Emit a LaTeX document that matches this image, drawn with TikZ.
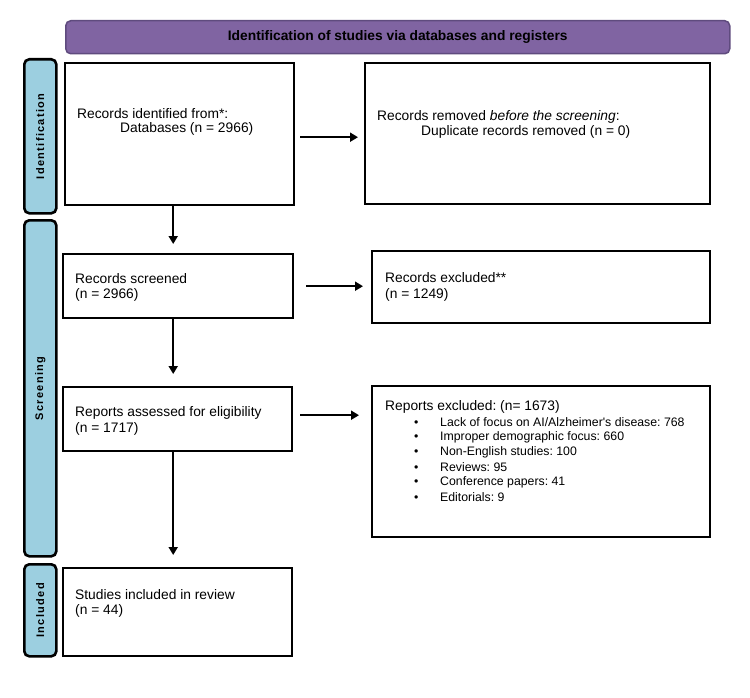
\documentclass[tikz,border=0pt]{standalone}
\usepackage{fontspec}
\setmainfont{Liberation Sans}
\usetikzlibrary{arrows.meta}
\definecolor{banfill}{HTML}{8064A2}
\definecolor{bandraw}{HTML}{5F4B7E}
\definecolor{sidefill}{HTML}{9CCFE0}
\frenchspacing
\begin{document}
\begin{tikzpicture}[x=1pt,y=-1pt,
  box/.style={draw=black, line width=2.4pt, fill=white, anchor=north west, inner sep=0pt},
  sidebox/.style={draw=black, line width=2.6pt, fill=sidefill, rounded corners=5pt, anchor=north west, inner sep=0pt, minimum width=32pt},
  sidelab/.style={rotate=90, font=\fontsize{11}{13}\selectfont\bfseries\addfontfeature{LetterSpace=12}},
  txt/.style={anchor=west, inner sep=0pt, font=\fontsize{13.8}{15}\selectfont},
  btxt/.style={anchor=west, inner sep=0pt, font=\fontsize{12.3}{15}\selectfont},
  arr/.style={line width=2.4pt, -{Triangle[length=8pt,width=9pt]}}
]
\useasboundingbox (0,0) rectangle (750,698);
% banner
\node[draw=bandraw, line width=1.5pt, fill=banfill, rounded corners=5pt, anchor=north west,
      minimum width=664pt, minimum height=33pt, inner sep=0pt,
      font=\fontsize{13.8}{15}\selectfont\bfseries] (ban) at (65,20) {Identification of studies via databases and registers};
% side boxes
\node[sidebox, minimum height=154pt] (sid) at (23,58) {};
\node[sidelab] (sidl) at (sid.center) {Identification};
\node[sidebox, minimum height=336pt] (ssc) at (23,219) {};
\node[sidelab] (sscl) at (ssc.center) {Screening};
\node[sidebox, minimum height=92pt] (sin) at (23,563) {};
\node[sidelab] (sinl) at (sin.center) {Included};
% boxes
\node[box, minimum width=229pt, minimum height=142pt] (rid) at (64,62) {};
\node[box, minimum width=345pt, minimum height=141pt] (rem) at (364,62) {};
\node[box, minimum width=230pt, minimum height=64pt] (scr) at (62,253) {};
\node[box, minimum width=338pt, minimum height=72pt] (exc) at (371,250) {};
\node[box, minimum width=229pt, minimum height=64pt] (rep) at (62,386) {};
\node[box, minimum width=338pt, minimum height=151pt] (repx) at (371,385) {};
\node[box, minimum width=229pt, minimum height=88pt] (inc) at (62,567) {};
% texts
\node[txt] (t1a) at (77,114) {Records identified from*:};
\node[txt] (t1b) at (120,129) {Databases (n = 2966)};
\node[txt] (t2a) at (377,117) {Records removed \textit{before the screening}:};
\node[txt] (t2b) at (421,132) {Duplicate records removed (n = 0)};
\node[txt] (t3a) at (75,279) {Records screened};
\node[txt] (t3b) at (75,295) {(n = 2966)};
\node[txt] (t4a) at (385,278) {Records excluded**};
\node[txt] (t4b) at (385,295) {(n = 1249)};
\node[txt] (t5a) at (75,413) {Reports assessed for eligibility};
\node[txt] (t5b) at (75,429) {(n = 1717)};
\node[txt] (t6a) at (385,407) {Reports excluded: (n= 1673)};
\node[btxt] (t6b) at (414,422) {\makebox[26pt][l]{•}Lack of focus on AI/Alzheimer\textquotesingle s disease: 768};
\node[btxt] (t6c) at (414,437) {\makebox[26pt][l]{•}Improper demographic focus: 660};
\node[btxt] (t6d) at (414,452) {\makebox[26pt][l]{•}Non-English studies: 100};
\node[btxt] (t6e) at (414,467) {\makebox[26pt][l]{•}Reviews: 95};
\node[btxt] (t6f) at (414,482) {\makebox[26pt][l]{•}Conference papers: 41};
\node[btxt] (t6g) at (414,497) {\makebox[26pt][l]{•}Editorials: 9};
\node[txt] (t7a) at (75,595) {Studies included in review};
\node[txt] (t7b) at (75,611) {(n = 44)};
% arrows
\draw[arr] ([xshift=5pt,yshift=-3pt]rid.east) -- ([xshift=-6pt,yshift=-3pt]rid.east -| rem.west);
\draw[arr] ([xshift=12pt]scr.east) -- ([xshift=-8pt]scr.east -| exc.west);
\draw[arr] ([xshift=7pt,yshift=4pt]rep.east) -- ([xshift=-12pt,yshift=4pt]rep.east -| repx.west);
\draw[arr, shorten >=9pt] ([xshift=-6.5pt]rid.south) -- ([xshift=-6.5pt]rid.south |- scr.north);
\draw[arr, shorten >=12pt] ([xshift=-5pt]scr.south) -- ([xshift=-5pt]scr.south |- rep.north);
\draw[arr, shorten >=12pt] ([xshift=-4.5pt]rep.south) -- ([xshift=-4.5pt]rep.south |- inc.north);
\end{tikzpicture}
\end{document}
